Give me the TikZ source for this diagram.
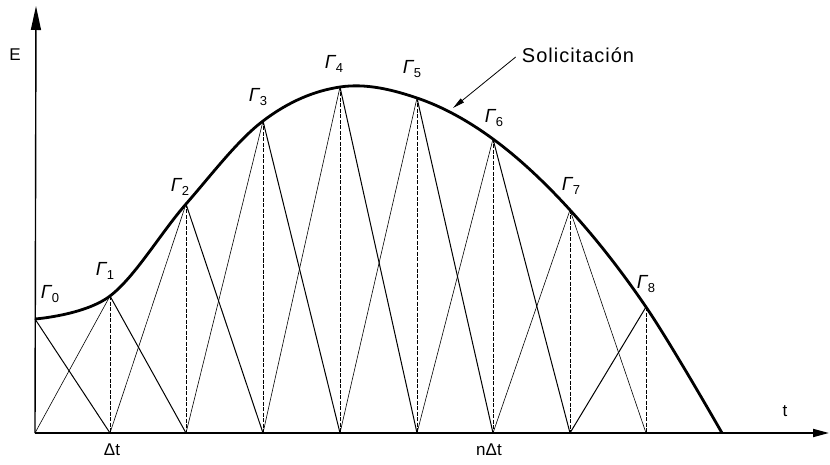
\documentclass[tikz,border=0pt]{standalone}
\usepackage{fontspec}
\setmainfont{Liberation Sans}
\usetikzlibrary{arrows.meta}
\tikzset{
  axisline/.style={line width=1.8pt},
  curveline/.style={line width=2.8pt, line join=round},
  rline/.style={line width=1.0pt},
  lline/.style={line width=0.6pt},
  vline/.style={line width=0.5pt, dash pattern=on 4pt off 1.5pt},
  glab/.style={font=\fontsize{19}{19}\selectfont\itshape, inner sep=0pt},
  tlab/.style={font=\fontsize{17}{17}\selectfont, inner sep=0pt},
}
\newcommand{\Gl}[1]{Γ\raisebox{-0.45ex}{\fontsize{13}{13}\selectfont\upshape #1}}
\begin{document}
\begin{tikzpicture}[x=1pt,y=-1pt]
\useasboundingbox (0,0) rectangle (830,465);
% base points
\coordinate (T0) at (35,433);
\coordinate (T1) at (110,433);
\coordinate (T2) at (186,433);
\coordinate (T3) at (263,433);
\coordinate (T4) at (340,433);
\coordinate (T5) at (417,433);
\coordinate (T6) at (493,433);
\coordinate (T7) at (570,433);
\coordinate (T8) at (646,433);
\coordinate (T9) at (722,433);
\coordinate (XE) at (829,433);
\coordinate (YE) at (36,6);
% curve points
\coordinate (G0) at (35,319);
\coordinate (G1) at (110,296);
\coordinate (G2) at (186,204);
\coordinate (G3) at (263,121);
\coordinate (G4) at (340,87);
\coordinate (G5) at (417,98);
\coordinate (G6) at (493,139);
\coordinate (G7) at (570,210);
\coordinate (G8) at (646,307);
% vertical dotted lines
\foreach \k in {1,...,8} \draw[vline] (G\k) -- (T\k);
% zigzag lines
\draw[rline] (G0) -- (T1);
\draw[lline] (T0) -- (G1);
\draw[rline] (G1) -- (T2);
\draw[lline] (T1) -- (G2);
\draw[rline] (G2) -- (T3);
\draw[lline] (T2) -- (G3);
\draw[rline] (G3) -- (T4);
\draw[lline] (T3) -- (G4);
\draw[rline] (G4) -- (T5);
\draw[lline] (T4) -- (G5);
\draw[rline] (G5) -- (T6);
\draw[lline] (T5) -- (G6);
\draw[rline] (G6) -- (T7);
\draw[lline] (T6) -- (G7);
\draw[lline] (G7) -- (T8);
\draw[rline] (T7) -- (G8);
% curve
\draw[curveline] plot[smooth, tension=0.6] coordinates {(G0) (G1) (G2) (G3) (G4) (G5) (G6) (G7) (G8) (T9)};
% axes
\draw[axisline, -{Triangle[length=16pt, width=8pt]}] (T0) -- (XE);
\draw[line width=1.4pt, -{Triangle[length=24pt, width=10pt]}] (T0) -- (YE);
% labels
\node[glab] (L0) at (50,294) {\Gl{0}};
\node[glab] (L1) at (105,271) {\Gl{1}};
\node[glab] (L2) at (180,187) {\Gl{2}};
\node[glab] (L3) at (258,97) {\Gl{3}};
\node[glab] (L4) at (334,64) {\Gl{4}};
\node[glab] (L5) at (412,69) {\Gl{5}};
\node[glab] (L6) at (494,118) {\Gl{6}};
\node[glab] (L7) at (571,186) {\Gl{7}};
\node[glab] (L8) at (646,284) {\Gl{8}};
\node[tlab] (E) at (15,55) {E};
\node[tlab] (tl) at (785,411) {t};
\node[tlab] (dt) at (112,450) {Δt};
\node[tlab] (ndt) at (489,450) {nΔt};
\node[font=\fontsize{20}{20}\selectfont\addfontfeatures{LetterSpace=5}, inner sep=0pt] (sol) at (578,55) {Solicitación};
\coordinate (SA) at (453,108);
\draw[line width=0.8pt, -{Triangle[length=12pt, width=5pt]}] (sol.west) ++(-6,2) -- (SA);
\end{tikzpicture}
\end{document}
